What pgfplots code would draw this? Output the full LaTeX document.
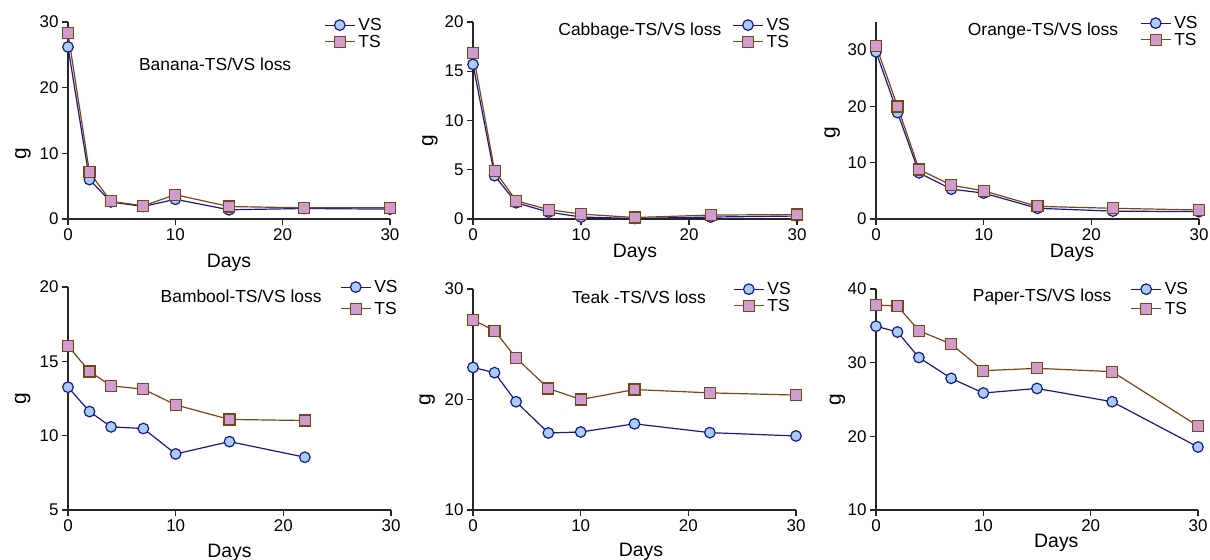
\documentclass[border=0pt]{standalone}
\usepackage{fontspec}
\setmainfont{Liberation Sans}
\usepackage{pgfplots}
\pgfplotsset{compat=1.18}

\definecolor{vsline}{RGB}{24,24,140}
\definecolor{vsfill}{RGB}{168,205,240}
\definecolor{tsline}{RGB}{122,70,20}
\definecolor{tsfill}{RGB}{206,156,206}

\tikzset{ttl/.style={font=\fontsize{17.5}{20}\selectfont,anchor=center}}
\pgfplotsset{
  panel/.style={
    scale only axis,
    anchor=south west,
    axis lines*=left,
    axis line style={line width=1.3bp,black!85},
    tick style={line width=1.3bp,black!85},
    major tick length=6bp,
    tick align=outside,
    xmin=0,xmax=30,xtick={0,10,20,30},
    tick label style={font=\fontsize{17}{20}\selectfont},
    /pgf/number format/assume math mode=true,
    xlabel={Days},ylabel={g},
    label style={font=\fontsize{19.5}{22}\selectfont},
    ylabel style={font=\fontsize{21}{22}\selectfont},
    clip=false,
    legend cell align=left,
    legend style={draw=none,fill=none,inner sep=0pt,row sep=-1bp,anchor=north west,
      font=\fontsize{17.5}{18}\selectfont,
      /tikz/every odd column/.append style={column sep=1bp}},
    legend image code/.code={\draw[mark repeat=2,mark phase=2,##1] plot coordinates {(0bp,0bp) (15bp,0bp) (30bp,0bp)};},
  },
  vs/.style={color=vsline,line width=1.2bp,mark=*,mark size=5.3bp,mark options={fill=vsfill}},
  ts/.style={color=tsline,line width=1.2bp,mark=square*,mark size=5.5bp,mark options={fill=tsfill}},
}

\begin{document}
\begin{tikzpicture}
\path[use as bounding box] (0,0) rectangle (1210bp,560bp);

% Banana
\begin{axis}[panel,at={(68bp,341bp)},width=322bp,height=197bp,ymin=0,ymax=30,ytick={0,10,20,30},
  xlabel style={at={(axis description cs:0.5,-0.22)},anchor=center},
  ylabel style={at={(axis description cs:-0.14,0.33)},anchor=center},
  legend style={at={(axis description cs:0.795,1.03)}}]
\addplot[vs] coordinates {(0,26.2) (2,6.0) (4,2.6) (7,1.9) (10,3.0) (15,1.4) (22,1.6) (30,1.5)};
\addplot[ts] coordinates {(0,28.3) (2,7.1) (4,2.7) (7,2.0) (10,3.7) (15,1.9) (22,1.7) (30,1.7)};
\legend{VS,TS}
\node[ttl] at (axis description cs:0.457,0.787) {Banana-TS/VS loss};
\end{axis}

% Cabbage
\begin{axis}[panel,at={(473bp,341bp)},width=324bp,height=197bp,ymin=0,ymax=20,ytick={0,5,10,15,20},
  xlabel style={at={(axis description cs:0.5,-0.17)},anchor=center},
  ylabel style={at={(axis description cs:-0.133,0.40)},anchor=center},
  legend style={at={(axis description cs:0.80,1.03)}}]
\addplot[vs] coordinates {(0,15.7) (2,4.4) (4,1.65) (7,0.7) (10,0.2) (15,0.05) (22,0.2) (30,0.3)};
\addplot[ts] coordinates {(0,16.85) (2,4.9) (4,1.85) (7,0.95) (10,0.5) (15,0.15) (22,0.4) (30,0.45)};
\legend{VS,TS}
\node[ttl] at (axis description cs:0.515,0.954) {Cabbage-TS/VS loss};
\end{axis}

% Orange
\begin{axis}[panel,at={(876bp,341bp)},width=323bp,height=197bp,ymin=0,ymax=35,ytick={0,10,20,30},
  xlabel style={at={(axis description cs:0.607,-0.17)},anchor=center},
  ylabel style={at={(axis description cs:-0.136,0.44)},anchor=center},
  legend style={at={(axis description cs:0.817,1.04)}}]
\addplot[vs] coordinates {(0,29.7) (2,18.9) (4,8.2) (7,5.3) (10,4.6) (15,1.9) (22,1.4) (30,1.3)};
\addplot[ts] coordinates {(0,30.8) (2,20.0) (4,8.8) (7,6.0) (10,5.0) (15,2.25) (22,1.9) (30,1.6)};
\legend{VS,TS}
\node[ttl] at (axis description cs:0.517,0.954) {Orange-TS/VS loss};
\end{axis}

% Bamboo
\begin{axis}[panel,at={(68bp,50bp)},width=323bp,height=223bp,ymin=5,ymax=20,ytick={5,10,15,20},
  xlabel style={at={(axis description cs:0.5,-0.19)},anchor=center},
  ylabel style={at={(axis description cs:-0.14,0.5)},anchor=center},
  legend style={at={(axis description cs:0.842,1.04)},row sep=4bp}]
\addplot[vs] coordinates {(0,13.26) (2,11.62) (4,10.59) (7,10.48) (10,8.77) (15,9.6) (22,8.55)};
\addplot[ts] coordinates {(0,16.03) (2,14.32) (4,13.35) (7,13.13) (10,12.07) (15,11.09) (22,11.02)};
\legend{VS,TS}
\node[ttl] at (axis description cs:0.536,0.96) {Bambool-TS/VS loss};
\end{axis}

% Teak
\begin{axis}[panel,at={(473bp,50bp)},width=323bp,height=221bp,ymin=10,ymax=30,ytick={10,20,30},
  xlabel style={at={(axis description cs:0.52,-0.19)},anchor=center},
  ylabel style={at={(axis description cs:-0.142,0.5)},anchor=center},
  legend style={at={(axis description cs:0.805,1.04)}}]
\addplot[vs] coordinates {(0,22.9) (2,22.43) (4,19.8) (7,16.97) (10,17.06) (15,17.8) (22,17.0) (30,16.7)};
\addplot[ts] coordinates {(0,27.2) (2,26.23) (4,23.76) (7,21.0) (10,20.0) (15,20.9) (22,20.6) (30,20.4)};
\legend{VS,TS}
\node[ttl] at (axis description cs:0.514,0.964) {Teak -TS/VS loss};
\end{axis}

% Paper
\begin{axis}[panel,at={(876bp,50bp)},width=322bp,height=221bp,ymin=10,ymax=40,ytick={10,20,30,40},
  xlabel style={at={(axis description cs:0.56,-0.15)},anchor=center},
  ylabel style={at={(axis description cs:-0.12,0.5)},anchor=center},
  legend style={at={(axis description cs:0.79,1.04)},row sep=2bp}]
\addplot[vs] coordinates {(0,34.95) (2,34.16) (4,30.7) (7,27.87) (10,25.88) (15,26.5) (22,24.7) (30,18.55)};
\addplot[ts] coordinates {(0,37.83) (2,37.69) (4,34.34) (7,32.53) (10,28.91) (15,29.23) (22,28.78) (30,21.4)};
\legend{VS,TS}
\node[ttl] at (axis description cs:0.516,0.964) {Paper-TS/VS loss};
\end{axis}
\end{tikzpicture}
\end{document}
